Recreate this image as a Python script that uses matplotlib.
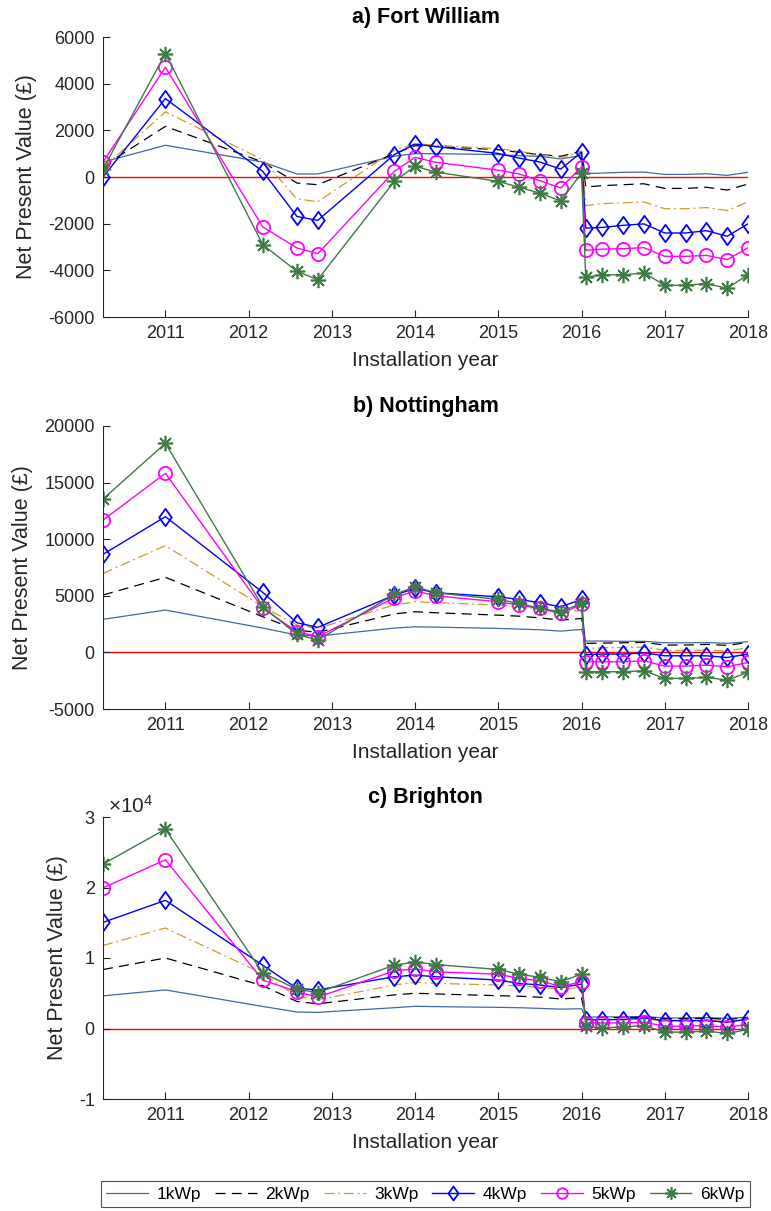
import numpy as np
import matplotlib
matplotlib.use("Agg")
import matplotlib.pyplot as plt
from matplotlib.path import Path

# installation dates (decimal year)
years = [2010.25, 2011.0, 2012.17, 2012.58, 2012.83, 2013.75, 2014.0, 2014.25,
         2015.0, 2015.25, 2015.5, 2015.75, 2016.0, 2016.05, 2016.25, 2016.5,
         2016.75, 2017.0, 2017.25, 2017.5, 2017.75, 2018.0]

labels = ["1kWp", "2kWp", "3kWp", "4kWp", "5kWp", "6kWp"]

# a) Fort William
fw_1 = [640, 1360, 640, 130, 130, 890, 1000, 1000, 960, 910, 890, 770, 930,
        140, 170, 200, 210, 110, 110, 140, 70, 200]
fw_2 = [460, 2170, 640, -260, -330, 1000, 1340, 1310, 1170, 1060, 960, 890, 1100,
        -430, -370, -330, -290, -490, -490, -440, -560, -300]
fw_3 = [390, 2790, 740, -940, -1060, 1140, 1430, 1360, 1210, 1100, 960, 810, 1100,
        -1230, -1140, -1110, -1070, -1360, -1360, -1310, -1440, -1060]
fw_4 = [0, 3360, 240, -1690, -1860, 960, 1410, 1300, 1010, 810, 640, 340, 1060,
        -2190, -2160, -2070, -2010, -2400, -2400, -2300, -2540, -2010]
fw_5 = [640, 4700, -2140, -3040, -3290, 240, 840, 630, 290, 130, -160, -470, 430,
        -3140, -3090, -3070, -3030, -3400, -3400, -3360, -3540, -3030]
fw_6 = [340, 5290, -2900, -4040, -4400, -190, 460, 210, -190, -440, -690, -1030, 170,
        -4290, -4190, -4190, -4110, -4640, -4640, -4570, -4770, -4190]

# b) Nottingham
nt_1 = [2920, 3740, 2150, 1530, 1440, 2150, 2260, 2230, 2120, 2060, 2000, 1880, 2030,
        1000, 1000, 980, 980, 850, 850, 870, 800, 950]
nt_2 = [5070, 6630, 3150, 1970, 1770, 3400, 3590, 3500, 3290, 3200, 3050, 2850, 3000,
        800, 820, 850, 880, 650, 650, 710, 620, 880]
nt_3 = [6980, 9430, 4040, 2420, 2120, 4200, 4470, 4400, 4180, 4050, 3850, 3590, 3730,
        350, 410, 440, 470, 180, 180, 210, 120, 410]
nt_4 = [8660, 11990, 5300, 2620, 2210, 5060, 5650, 5270, 4910, 4680, 4380, 4030, 4680,
        -200, -150, -150, -50, -300, -300, -300, -450, -150]
nt_5 = [11690, 15820, 3890, 1830, 1380, 4820, 5440, 5000, 4470, 4180, 3880, 3440, 4240,
        -830, -830, -830, -740, -1210, -1210, -1120, -1270, -890]
nt_6 = [13550, 18470, 4040, 1590, 1090, 5120, 5800, 5270, 4680, 4330, 3880, 3590, 4330,
        -1710, -1710, -1710, -1620, -2300, -2300, -2210, -2440, -1770]

# c) Brighton
br_1 = [4630, 5470, 3130, 2340, 2290, 2950, 3150, 3100, 3000, 2950, 2850, 2750, 2800,
        1600, 1650, 1650, 1700, 1500, 1500, 1550, 1450, 1600]
br_2 = [8360, 10000, 6070, 3830, 3500, 4770, 5000, 4900, 4650, 4580, 4440, 4200, 4350,
        1500, 1550, 1550, 1600, 1400, 1400, 1450, 1300, 1500]
br_3 = [11780, 14250, 7800, 4530, 4070, 6170, 6550, 6400, 6170, 6030, 5850, 5570, 5850,
        1250, 1300, 1300, 1350, 1100, 1100, 1150, 1000, 1200]
br_4 = [15050, 18180, 8970, 5700, 5470, 7340, 7570, 7340, 6870, 6400, 6170, 5800, 6300,
        1260, 1260, 1260, 1500, 1120, 1120, 1120, 890, 1360]
br_5 = [19950, 23930, 6870, 5230, 4440, 8180, 8460, 8040, 7710, 7100, 6780, 5940, 6640,
        790, 790, 790, 890, 330, 330, 420, 190, 560]
br_6 = [23320, 28270, 7900, 5560, 5090, 8980, 9440, 9070, 8370, 7710, 7250, 6640, 7710,
        330, 90, 230, 420, -510, -510, -370, -700, -140]

panels = [
    ("a) Fort William", [fw_1, fw_2, fw_3, fw_4, fw_5, fw_6], (-6000, 6000), np.arange(-6000, 6001, 2000)),
    ("b) Nottingham", [nt_1, nt_2, nt_3, nt_4, nt_5, nt_6], (-5000, 20000), np.arange(-5000, 20001, 5000)),
    ("c) Brighton", [br_1, br_2, br_3, br_4, br_5, br_6], (-10000, 30000), np.arange(-10000, 30001, 10000)),
]

# MATLAB-like diamond, a bit wider than matplotlib's thin diamond
diamond = Path([(0, 1), (0.72, 0), (0, -1), (-0.72, 0), (0, 1)],
               [Path.MOVETO, Path.LINETO, Path.LINETO, Path.LINETO, Path.CLOSEPOLY])

styles = [
    dict(color="#4068a8", lw=0.9, ls="-"),
    dict(color="black", lw=0.9, ls=(0, (8, 5))),
    dict(color="#d09a2c", lw=0.9, ls=(0, (8, 3, 1.5, 3))),
    dict(color="#0000ff", lw=1.0, ls="-", marker=diamond, ms=12.5, mfc="none", mew=1.3),
    dict(color="#ff00ff", lw=1.0, ls="-", marker="o", ms=9.5, mfc="none", mew=1.3),
    dict(color="#3f7a45", lw=1.0, ls="-", marker=(8, 2, 0), ms=11, mew=1.2),
]

plt.rcParams["font.family"] = ["Liberation Sans", "DejaVu Sans"]
plt.rcParams["axes.unicode_minus"] = False
plt.rcParams["mathtext.fontset"] = "custom"
plt.rcParams["mathtext.rm"] = "Liberation Sans"

fig = plt.figure(figsize=(7.71, 12.11), dpi=100)
W, H = 771.0, 1211.0
boxes = [(37, 317), (426, 709), (817, 1099)]
left, right = 103, 748

handles = []
for (title, series, ylim, yticks), (top, bot) in zip(panels, boxes):
    ax = fig.add_axes([left / W, 1 - bot / H, (right - left) / W, (bot - top) / H])
    ax.axhline(0, color="red", lw=1.0, zorder=1)
    hs = []
    for vals, st in zip(series, styles):
        h, = ax.plot(years, vals, zorder=2, **st)
        hs.append(h)
    handles = hs
    ax.set_xlim(2010.25, 2018)
    ax.set_ylim(*ylim)
    ax.set_xticks(range(2011, 2019))
    ax.set_yticks(yticks)
    if ylim[1] == 30000:
        ax.set_yticklabels([str(int(v / 10000)) for v in yticks])
        ax.text(0.008, 1.0, r"$\mathrm{\times10^{4}}$", transform=ax.transAxes,
                fontsize=15, color="#262626", va="bottom", ha="left")
    for s in ["top", "right"]:
        ax.spines[s].set_visible(False)
    for s in ["left", "bottom"]:
        ax.spines[s].set_color("#262626")
        ax.spines[s].set_linewidth(0.8)
    ax.tick_params(direction="in", length=5, width=0.8, colors="#262626",
                   labelsize=13, pad=6)
    ax.set_title(title, fontsize=15.5, fontweight="bold", pad=10)
    ax.set_xlabel("Installation year", fontsize=15, color="#262626", labelpad=6)
    ax.set_ylabel("Net Present Value (£)", fontsize=15.5, color="#262626", labelpad=8)

leg = fig.legend(handles, labels, loc="center", ncol=6,
                 bbox_to_anchor=((left + right) / 2 / W, 1 - 1194 / H),
                 fontsize=12.5, handlelength=2.4, columnspacing=0.8,
                 handletextpad=0.5, frameon=True, fancybox=False,
                 borderpad=0.3, edgecolor="#262626", markerscale=0.8)
leg.get_frame().set_linewidth(0.8)

fig.savefig("out.png", dpi=100)
